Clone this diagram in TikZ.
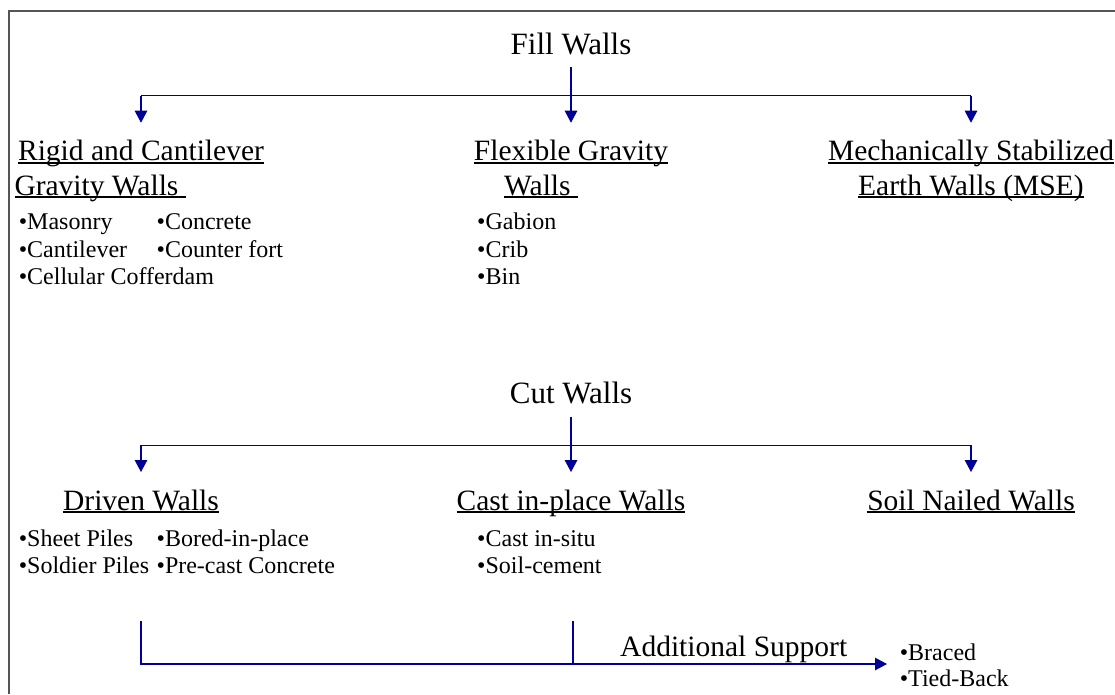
\documentclass[tikz,border=0pt]{standalone}
\usepackage{fontspec}
\setmainfont{Liberation Serif}
\usetikzlibrary{arrows.meta,calc}
\definecolor{linecol}{RGB}{0,0,150}
\definecolor{framecol}{RGB}{85,85,85}
\newcommand\ulbox[1]{\setbox0=\hbox{#1}\rlap{\rule[-3.2pt]{\wd0}{2pt}}\box0}
\begin{document}
\begin{tikzpicture}[x=1pt,y=-1pt,
 title/.style={inner sep=0pt,anchor=base,font=\fontsize{31}{31}\selectfont},
 head/.style={inner sep=0pt,font=\fontsize{29.5}{29.5}\selectfont},
 item/.style={inner sep=0pt,anchor=base west,font=\fontsize{24}{24}\selectfont},
 conn/.style={draw=linecol,line width=1.2pt},
 arr/.style={conn,-{Triangle[length=12pt,width=12.5pt]}}]
\useasboundingbox (0,0) rectangle (1115,694);
\draw[framecol,line width=1.5pt] (8.9,694) -- (8.9,11) -- (1115,11);

% Fill walls
\node[title] (fill) at (571,54) {Fill Walls};
\node[head,anchor=base] (rigid) at (141,160.7) {\ulbox{Rigid and Cantilever}};
\node[head,anchor=base west] (rigid2) at (14.3,195) {\ulbox{Gravity Walls\ }};
\node[head,anchor=base] (flex) at (571,160.7) {\ulbox{Flexible Gravity}};
\node[head,anchor=base west] (flex2) at (504,195) {\ulbox{Walls\ }};
\node[head,anchor=base] (mse) at (971,160.7) {\ulbox{Mechanically Stabilized}};
\node[head,anchor=base west] (mse2) at (858,195) {\ulbox{Earth Walls (MSE)}};

\coordinate (fbar) at (571,95.7);
\draw[conn] ([yshift=-12.7pt]fill.south) -- (fill.south |- fbar);
\draw[conn] (rigid.north |- fbar) -- (mse.north |- fbar);
\draw[arr] (rigid.north |- fbar) -- ([yshift=17.3pt]rigid.north);
\draw[arr] (flex.north |- fbar) -- ([yshift=17.3pt]flex.north);
\draw[arr] (mse.north |- fbar) -- ([yshift=17.3pt]mse.north);

\node[item] (i1) at (18.6,229.3) {•Masonry};
\node[item] (i2) at (156.4,229.3) {•Concrete};
\node[item] (i3) at (18.6,257) {•Cantilever};
\node[item] (i4) at (156.4,257) {•Counter fort};
\node[item] (i5) at (18.6,284.5) {•Cellular Cofferdam};
\node[item] (g1) at (477,229.3) {•Gabion};
\node[item] (g2) at (477,257) {•Crib};
\node[item] (g3) at (477,284.5) {•Bin};

% Cut walls
\node[title] (cut) at (571,403.3) {Cut Walls};
\node[head,anchor=base] (driven) at (141,510) {\ulbox{Driven Walls}};
\node[head,anchor=base] (cast) at (571,510) {\ulbox{Cast in-place Walls}};
\node[head,anchor=base] (soil) at (971,510) {\ulbox{Soil Nailed Walls}};

\coordinate (cbar) at (571,445.3);
\draw[conn] ([yshift=-13.4pt]cut.south) -- (cut.south |- cbar);
\draw[conn] (driven.north |- cbar) -- (soil.north |- cbar);
\draw[arr] (driven.north |- cbar) -- ([yshift=17.3pt]driven.north);
\draw[arr] (cast.north |- cbar) -- ([yshift=17.3pt]cast.north);
\draw[arr] (soil.north |- cbar) -- ([yshift=17.3pt]soil.north);

\node[item] (d1) at (18.6,546.7) {•Sheet Piles};
\node[item] (d2) at (156.4,546.7) {•Bored-in-place};
\node[item] (d3) at (18.6,573.5) {•Soldier Piles};
\node[item] (d4) at (156.4,573.5) {•Pre-cast Concrete};
\node[item] (c1) at (477,546.7) {•Cast in-situ};
\node[item] (c2) at (477,573.5) {•Soil-cement};

% Additional support
\node[head,anchor=base west] (add) at (620,656) {Additional Support};
\node[item] (b1) at (899.6,660) {•Braced};
\node[item] (b2) at (899.6,686.7) {•Tied-Back};
\coordinate (s1) at (141,620.7);
\coordinate (s2) at (573,620.7);
\coordinate (hb) at (0,664);
\draw[arr] (s1) -- (s1 |- hb) -- ([xshift=-12.6pt]b1.west |- hb);
\draw[conn] (s2) -- (s2 |- hb);
\end{tikzpicture}
\end{document}
